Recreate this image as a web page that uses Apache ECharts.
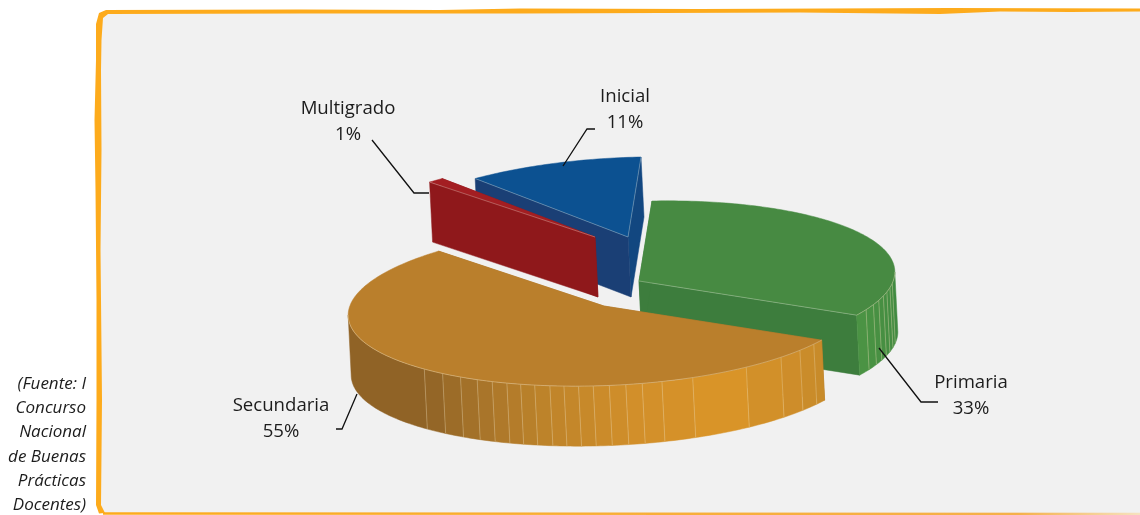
<!DOCTYPE html>
<html><head><meta charset="utf-8">
<style>html,body{margin:0;padding:0;background:#fff}#c{width:1140px;height:515px}</style>
<script src="https://cdn.jsdelivr.net/npm/echarts@6/dist/echarts.min.js"></script>
</head><body><div id="c"></div>
<script>
// ---- data ----
const categories = ['Inicial', 'Primaria', 'Secundaria', 'Multigrado'];
const seriesValues = [11, 33, 55, 1];
const percentLabels = ['11%', '33%', '55%', '1%'];
const sourceLines = ['(Fuente: I', 'Concurso', 'Nacional', 'de Buenas', 'Prácticas', 'Docentes)'];

// ---- layout & style ----
const START = -39.6;                    // where the first slice starts, degrees clockwise from "up"
const AX = [255.5, -5], AY = [13, -80]; // projection of the tilted disc
const DEPTH = [3, 60];                  // extrusion vector
const centres = { Inicial: [628, 237], Primaria: [639, 281], Secundaria: [604, 306], Multigrado: [595, 237] };
const drawOrder = ['Inicial', 'Multigrado', 'Primaria', 'Secundaria'];
const styles = {
  Inicial:    { top: '#0c5191', cutA: '#1a3f75', cutB: '#124780', edges: [1, 1] },
  Primaria:   { top: '#478a42', cutA: '#3d7d3d', cutB: '#3d7d3d', edges: [0, 1] },
  Secundaria: { top: '#ba7f2c', cutA: '#a8752a', cutB: '#a8752a', edges: [0, 0] },
  Multigrado: { top: '#a31e22', cutA: '#8f181b', cutB: '#8f181b', edges: [1, 0] }
};
const facetAngles = {
  Primaria: [114.5, 110.7, 107.5, 104.3, 101.4, 98.3, 95.2],
  Secundaria: [122, 127.1, 133.3, 143.3, 156.8, 164, 168.5, 172.2, 175.9, 179.5, 182.8, 186.1, 189.3,
               192.8, 196.1, 199.4, 203, 206.8, 211.2, 216.2, 221.7]
};
const shadeStops = {
  Primaria: [[87, [63, 136, 64]], [119, [76, 148, 68]]],
  Secundaria: [[118, [199, 138, 42]], [133, [207, 142, 42]], [150, [217, 148, 40]], [170, [210, 143, 42]],
               [190, [191, 132, 42]], [205, [169, 117, 42]], [222, [144, 99, 38]], [268, [144, 99, 38]]]
};
const labelLayout = {
  Inicial:    { c: [625, 97],  gap: 26, line: [[563, 166], [587, 129], [595, 129]] },
  Primaria:   { c: [971, 383], gap: 26, line: [[879, 348], [921, 402], [938, 402]] },
  Secundaria: { c: [281, 406], gap: 26, line: [[357, 394], [342, 429], [336, 429]] },
  Multigrado: { c: [348, 109], gap: 26, line: [[372, 140], [414, 193], [429, 193]] }
};
const FONT = '"Open Sans", "Noto Sans", sans-serif';
const SILHOUETTE_A = 87.1, SILHOUETTE_B = 267.1;

// ---- geometry from values ----
const total = seriesValues.reduce((a, b) => a + b, 0);
const spans = {};
let cursor = START;
categories.forEach((n, i) => { const s = seriesValues[i] / total * 360; spans[n] = [cursor, cursor + s]; cursor += s; });

function rim(c, deg) {
  const r = deg * Math.PI / 180, s = Math.sin(r), k = Math.cos(r);
  return [c[0] + AX[0] * s + AY[0] * k, c[1] + AX[1] * s + AY[1] * k];
}
function down(p) { return [p[0] + DEPTH[0], p[1] + DEPTH[1]]; }
function arc(c, a, b) {
  const pts = [], n = Math.max(2, Math.ceil(Math.abs(b - a)));
  for (let i = 0; i <= n; i++) pts.push(rim(c, a + (b - a) * i / n));
  return pts;
}
function shade(name, deg) {
  const st = shadeStops[name];
  for (let i = 0; i < st.length - 1; i++) {
    if (deg <= st[i + 1][0]) {
      const t = Math.max(0, (deg - st[i][0]) / (st[i + 1][0] - st[i][0]));
      const c = st[i][1].map((v, j) => Math.round(v + (st[i + 1][1][j] - v) * t));
      return 'rgb(' + c.join(',') + ')';
    }
  }
  return 'rgb(' + st[st.length - 1][1].join(',') + ')';
}
function poly(points, fill) {
  return { type: 'polygon', shape: { points }, style: { fill, stroke: fill, lineWidth: 0.5 } };
}
function seg(p, q, color, w) {
  return { type: 'line', shape: { x1: p[0], y1: p[1], x2: q[0], y2: q[1] }, style: { stroke: color, lineWidth: w || 0.8 } };
}

function renderSlice(params, api) {
  const name = drawOrder[api.value(0)];
  const [a, b] = spans[name];
  const c = centres[name], st = styles[name], kids = [];
  const dc = down(c);
  // cut walls
  kids.push(poly([c, rim(c, b), down(rim(c, b)), dc], st.cutB));
  kids.push(poly([c, rim(c, a), down(rim(c, a)), dc], st.cutA));
  // outer wall, facet by facet
  const lo = Math.max(a, SILHOUETTE_A), hi = Math.min(b, SILHOUETTE_B);
  if (lo < hi && facetAngles[name]) {
    const stops = [lo, ...facetAngles[name], hi].sort((x, y) => x - y);
    for (let i = 0; i < stops.length - 1; i++) {
      const top = arc(c, stops[i], stops[i + 1]);
      kids.push(poly(top.concat(top.slice().reverse().map(down)), shade(name, (stops[i] + stops[i + 1]) / 2)));
    }
    facetAngles[name].forEach(d => {
      const p = rim(c, d);
      kids.push(seg(p, down(p), 'rgba(240,222,180,0.42)', 0.8));
    });
  }
  // top face
  kids.push(poly([c].concat(arc(c, a, b)), st.top));
  // light edges of the top face
  const edge = 'rgba(235,235,225,0.4)';
  if (st.edges[0]) kids.push(seg(c, rim(c, a), edge, 0.8));
  if (st.edges[1]) kids.push(seg(c, rim(c, b), edge, 0.8));
  if (lo < hi) kids.push({ type: 'polyline', shape: { points: arc(c, lo, hi) }, style: { stroke: 'rgba(240,225,190,0.5)', lineWidth: 0.8, fill: 'none' } });
  return { type: 'group', children: kids };
}

// ---- frame, labels, source note ----
const ORANGE = '#fdab1c';
const graphics = [
  { type: 'rect', z: -5, shape: { x: 99, y: 11, width: 1060, height: 503, r: 8 }, style: { fill: '#f1f1f1' } },
  { type: 'polygon', z: -4, shape: { points: [[106, 10], [300, 9.5], [440, 10], [520, 8.5], [700, 9], [950, 8], [1140, 8.5],
      [1140, 11.5], [1070, 12], [1000, 11.5], [940, 14], [800, 12.5], [520, 13.5], [440, 13.5], [300, 13.5], [108, 14],
      [103, 18], [101.5, 40], [101, 70], [101.5, 150], [100.5, 250], [102, 400], [101, 505], [105, 513], [99, 513.5], [96, 505],
      [96.5, 400], [96.5, 300], [95.5, 190], [94.5, 120], [96, 60], [96, 24], [99, 13]] },
    style: { fill: ORANGE } },
  { type: 'line', z: -4, shape: { x1: 103, y1: 513.5, x2: 1140, y2: 514 },
    style: { lineWidth: 2.4, stroke: { type: 'linear', x: 0, y: 0, x2: 1, y2: 0, colorStops: [
      { offset: 0, color: ORANGE }, { offset: 0.88, color: '#f5b04a' }, { offset: 1, color: '#f6e3c2' }] } } }
];
categories.forEach((n, i) => {
  const l = labelLayout[n];
  graphics.push({ type: 'polyline', z: 20, shape: { points: l.line }, style: { stroke: '#111', lineWidth: 1.3, fill: 'none' } });
  [n, percentLabels[i]].forEach((t, k) => graphics.push({
    type: 'text', z: 21, x: l.c[0], y: l.c[1] + k * l.gap,
    style: { text: t, font: '18.6px ' + FONT, fill: '#1c1c1c', textAlign: 'center', textVerticalAlign: 'middle' }
  }));
});
sourceLines.forEach((t, i) => graphics.push({
  type: 'text', z: 21, x: 86, y: 384 + i * 24.3,
  style: { text: t, font: 'italic 17px ' + FONT, fill: '#1c1c1c', textAlign: 'right', textVerticalAlign: 'middle' }
}));

const chart = echarts.init(document.getElementById('c'), null, { renderer: 'canvas', width: 1140, height: 515 });
chart.setOption({
  animation: false,
  backgroundColor: '#ffffff',
  graphic: { elements: graphics },
  series: [{
    type: 'custom',
    coordinateSystem: 'none',
    silent: true,
    z: 5,
    renderItem: renderSlice,
    data: drawOrder.map((n, i) => [i, seriesValues[categories.indexOf(n)]]),
    encode: {}
  }]
});
</script></body></html>
